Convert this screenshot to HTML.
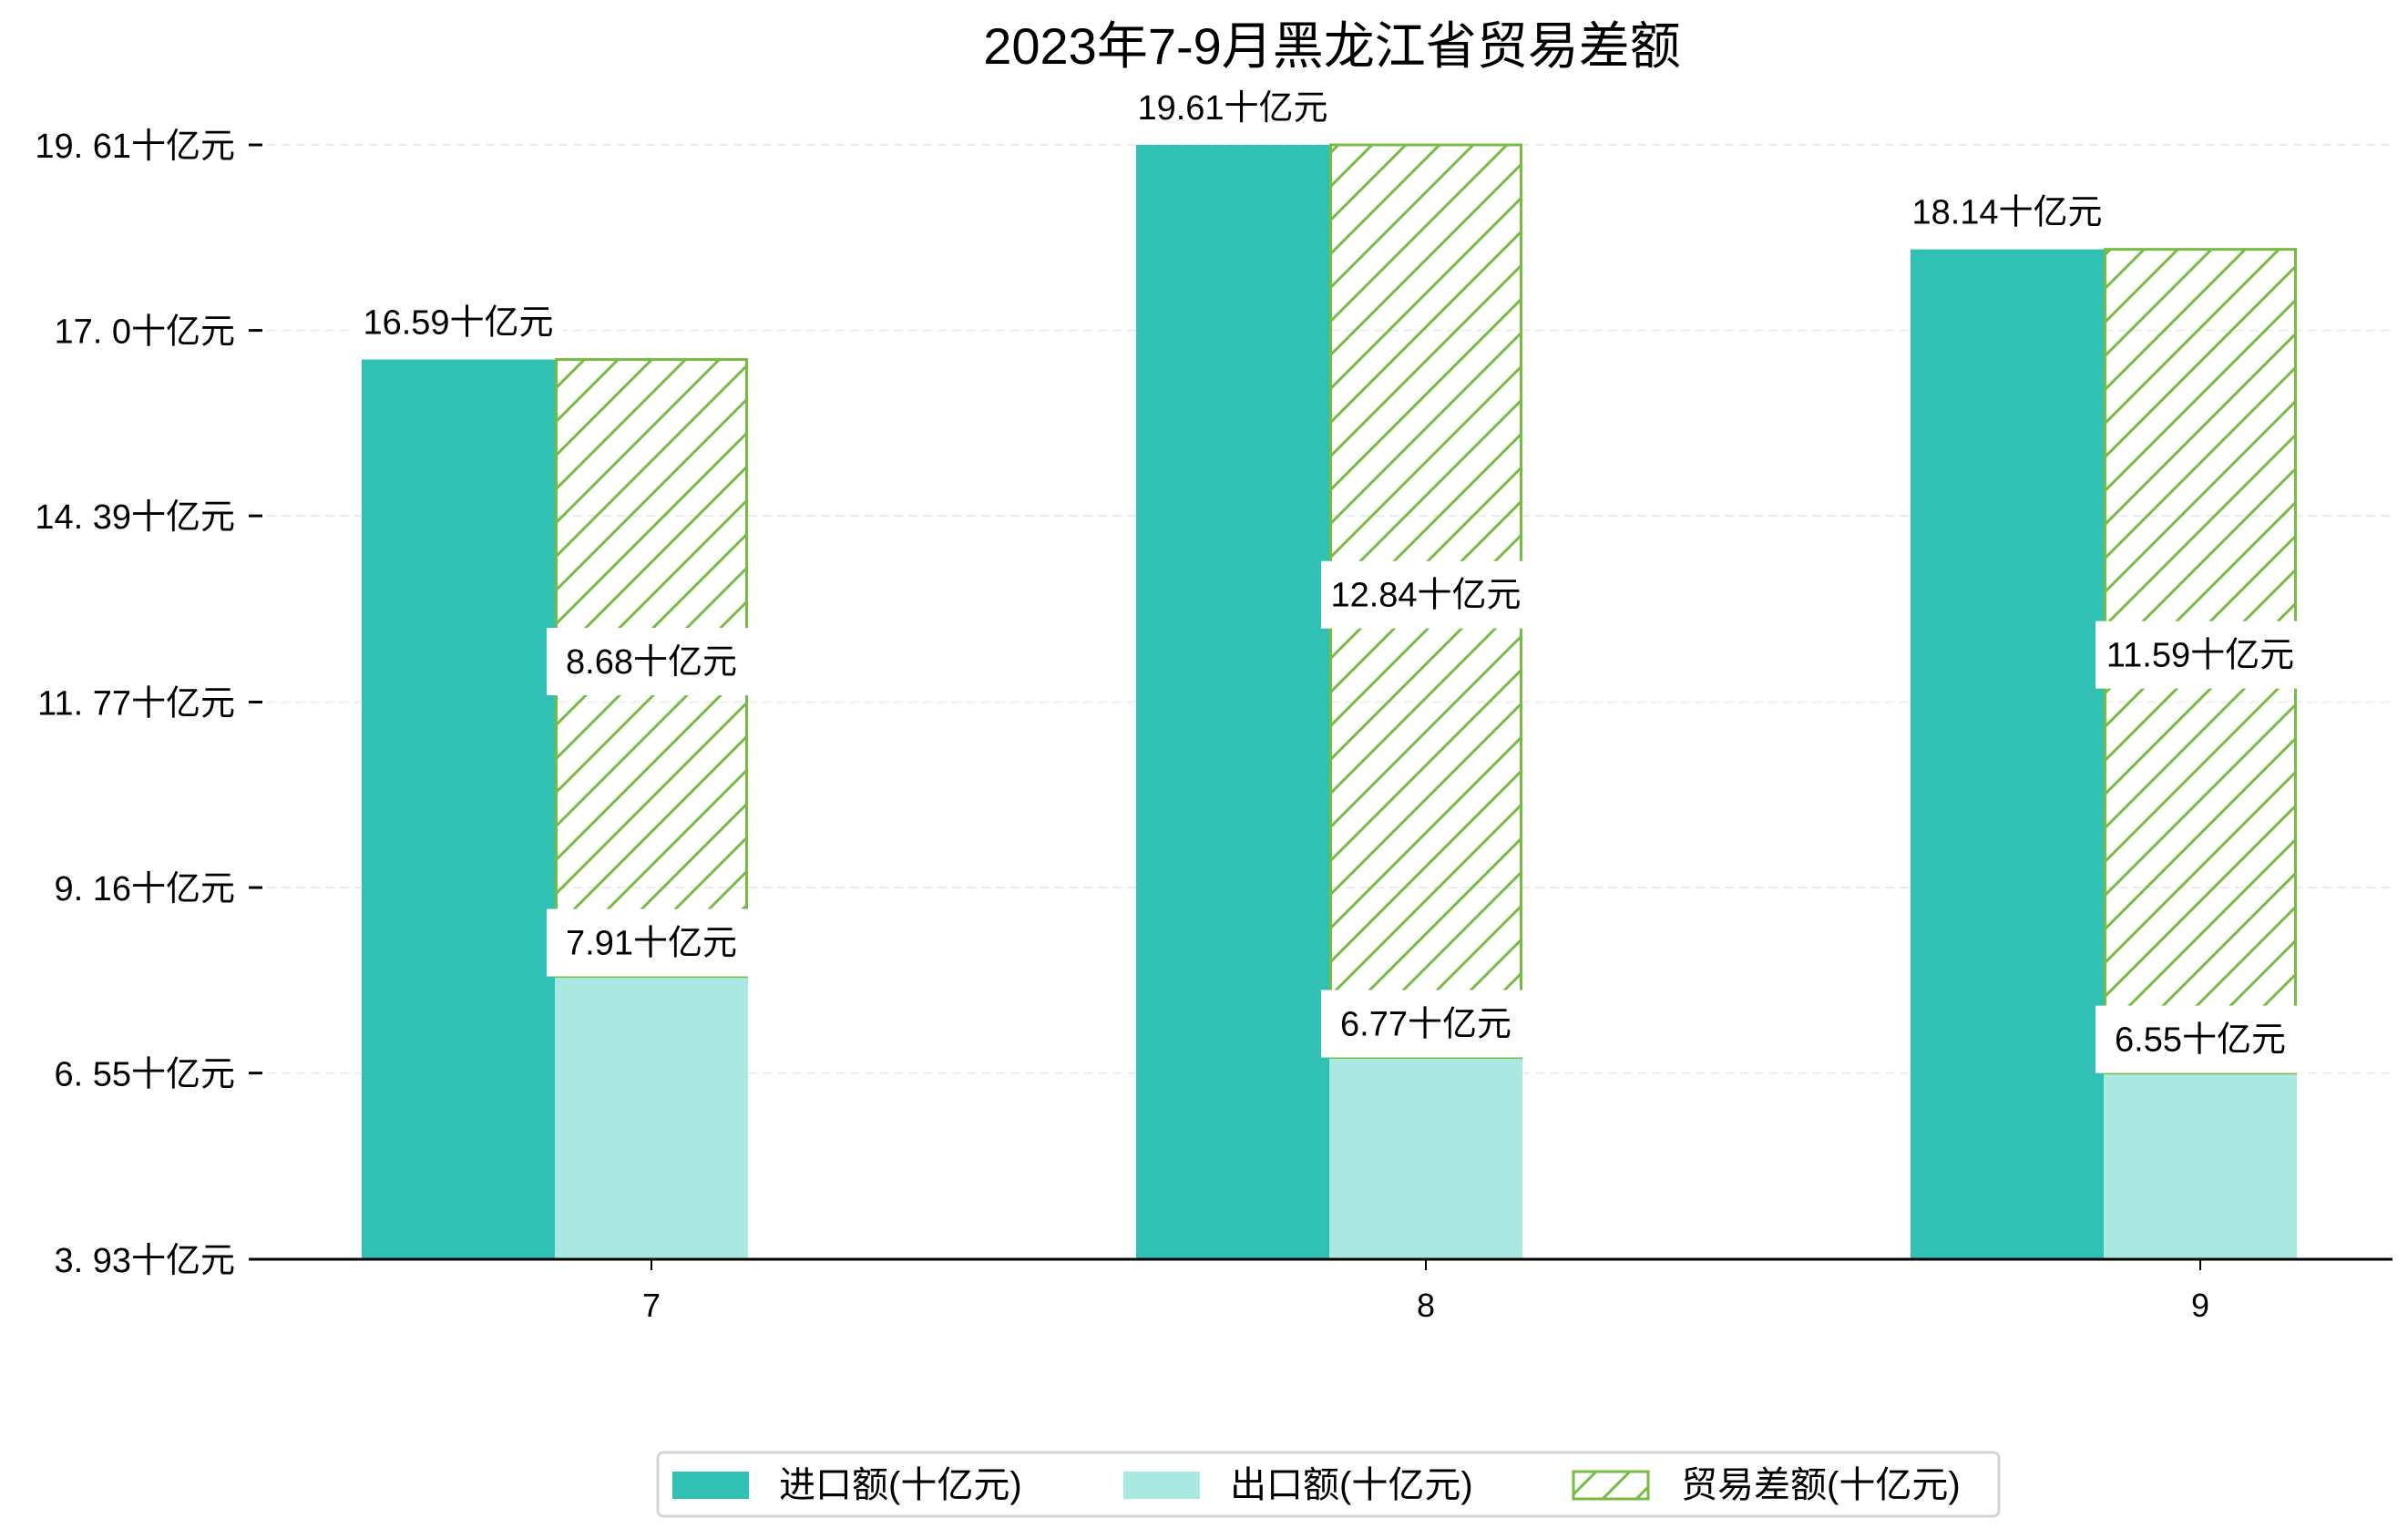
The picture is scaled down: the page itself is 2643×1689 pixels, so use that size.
<!DOCTYPE html>
<html><head><meta charset="utf-8">
<style>
html,body{margin:0;padding:0;background:#fff;}
svg{display:block;font-family:"Liberation Sans","Noto Sans CJK SC",sans-serif;}
</style></head>
<body>
<svg id="chart" width="2643" height="1689" viewBox="0 0 2643 1689" xmlns="http://www.w3.org/2000/svg">
<defs>
<pattern id="hatch" patternUnits="userSpaceOnUse" width="37" height="37">
<path d="M-9,9 L9,-9 M0,37 L37,0 M28,46 L46,28" stroke="#77bb44" stroke-width="3"/>
</pattern>
</defs>
<text x="1462" y="70" font-size="56" text-anchor="middle" fill="#000">2023年7-9月黑龙江省贸易差额</text>
<g id="grid"></g>
<g id="bars"></g>
<g id="labels"></g>
<g id="axes"></g>
<g>
<rect x="722" y="1594" width="1472" height="70" rx="6" fill="#fff" stroke="#d5d5d5" stroke-width="3"/>
<rect x="738" y="1615" width="84" height="30" fill="#30c0b4"/>
<text x="855" y="1643" font-size="40">进口额(十亿元)</text>
<rect x="1233" y="1615" width="84" height="30" fill="#aae8e2"/>
<text x="1350" y="1643" font-size="40">出口额(十亿元)</text>
<rect x="1727" y="1615" width="82" height="30" fill="url(#hatch)" stroke="#77bb44" stroke-width="3"/>
<text x="1845" y="1643" font-size="40">贸易差额(十亿元)</text>
</g>
</svg>
<script>
const categories = ["7", "8", "9"];
const importValues = [16.59, 19.61, 18.14];
const exportValues = [7.91, 6.77, 6.55];
const balanceValues = [8.68, 12.84, 11.59];
const yTickLabels = ["3.93", "6.55", "9.16", "11.77", "14.39", "17.0", "19.61"];

const NS = "http://www.w3.org/2000/svg";
const yMin = 3.93, yMax = 19.61;
const plotTop = 159, plotBottom = 1382, plotLeft = 273, plotRight = 2626;
function yScale(v){ return plotBottom - (v - yMin) / (yMax - yMin) * (plotBottom - plotTop); }
const groupStart = 715, groupStep = 850, barW = 212;
function xCenter(i){ return groupStart + i * groupStep; }
function mk(tag, attrs, parent){
  const el = document.createElementNS(NS, tag);
  for (const k in attrs) el.setAttribute(k, attrs[k]);
  parent.appendChild(el);
  return el;
}
const grid = document.getElementById('grid');
const bars = document.getElementById('bars');
const labels = document.getElementById('labels');
const axes = document.getElementById('axes');

yTickLabels.forEach(function(t){
  const v = parseFloat(t);
  const y = yScale(v);
  if (v > yMin) {
    const g = mk('line', {x1: plotLeft + 20, x2: plotRight, y1: y, y2: y, stroke: '#ececec', 'stroke-width': 2, 'stroke-dasharray': '10,6'}, grid);
    
    
  }
  const tk = mk('line', {x1: plotLeft, x2: plotLeft + 15, y1: y, y2: y, stroke: '#000', 'stroke-width': 3}, axes);
  
  
  const tx = mk('text', {x: 258, y: y + 14, 'font-size': 38, 'text-anchor': 'end'}, axes);
  tx.textContent = t.replace('.', '. ') + '十亿元';
  
  
});
const base = mk('line', {x1: plotLeft, x2: plotRight, y1: plotBottom, y2: plotBottom, stroke: '#000', 'stroke-width': 3}, axes);



function addLabel(text, cx, bottomY, name){
  const w = 230;
  const r = mk('rect', {x: cx - w / 2, y: bottomY - 74, width: w, height: 74, fill: '#fff'}, labels);
  
  
  const t = mk('text', {x: cx, y: bottomY - 24, 'font-size': 38, 'text-anchor': 'middle'}, labels);
  t.textContent = text;
  
  
}

categories.forEach(function(c, i){
  const cx = xCenter(i);
  const iy = yScale(importValues[i]);
  const b1 = mk('rect', {x: cx - 106 - barW, y: iy, width: barW + 1, height: plotBottom - iy, fill: '#30c0b4'}, bars);
  
  
  const ey = yScale(exportValues[i]);
  const b2 = mk('rect', {x: cx - 106, y: ey, width: barW, height: plotBottom - ey, fill: '#aae8e2'}, bars);
  
  
  const hy = yScale(exportValues[i] + balanceValues[i]);
  const b3 = mk('rect', {x: cx - 106 + 1.5, y: hy, width: barW - 3, height: ey - hy, fill: 'url(#hatch)', stroke: '#77bb44', 'stroke-width': 3}, bars);
  
  

  addLabel(importValues[i].toFixed(2) + '十亿元', cx - 106 - barW / 2, iy - 4, 'import-value-label-' + c);
  addLabel(exportValues[i].toFixed(2) + '十亿元', cx, ey, 'export-value-label-' + c);
  addLabel(balanceValues[i].toFixed(2) + '十亿元', cx, (hy + ey) / 2 + 30, 'balance-value-label-' + c);

  const xt = mk('line', {x1: cx, x2: cx, y1: plotBottom, y2: plotBottom + 12, stroke: '#000', 'stroke-width': 2}, axes);
  
  
  const xl = mk('text', {x: cx, y: 1445, 'font-size': 36, 'text-anchor': 'middle'}, axes);
  xl.textContent = c;
  
  
});
</script>
</body></html>
